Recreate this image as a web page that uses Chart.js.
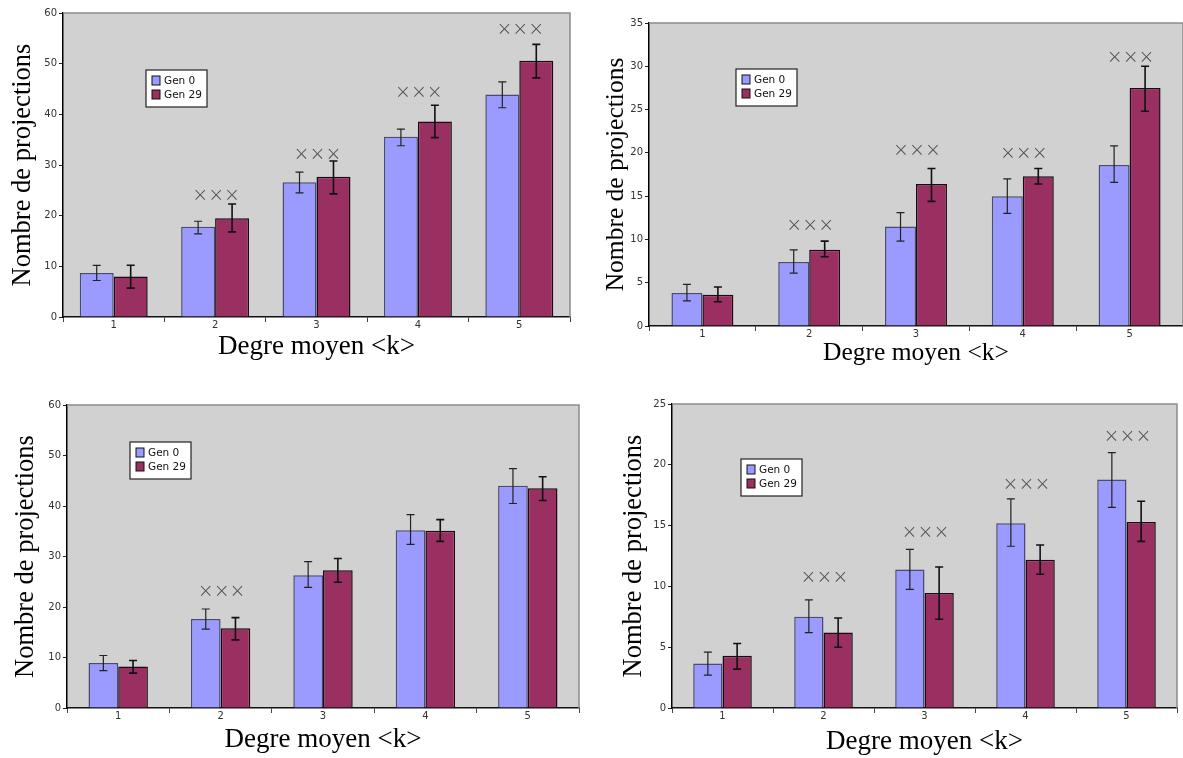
<!DOCTYPE html>
<html>
<head>
<meta charset="utf-8">
<script src="https://cdn.jsdelivr.net/npm/chart.js@4.4.0/dist/chart.umd.min.js"></script>
<style>
  html, body { margin: 0; padding: 0; background: #fff; }
  body { width: 1183px; height: 758px; position: relative; overflow: hidden; }
  canvas { position: absolute; }
</style>
</head>
<body>
<canvas id="c1" width="585" height="368" style="left:0px;top:0px"></canvas>
<canvas id="c2" width="591" height="375" style="left:592px;top:0px"></canvas>
<canvas id="c3" width="590" height="378" style="left:0px;top:380px"></canvas>
<canvas id="c4" width="591" height="378" style="left:592px;top:380px"></canvas>
<script>
// categories (degre moyen <k>)
var degres = ['1', '2', '3', '4', '5'];
var seriesNames = ['Gen 0', 'Gen 29'];
var marque = '×××';

// panneau 1 (haut gauche)
var p1Gen0 = [8.7, 17.8, 26.6, 35.6, 43.9];
var p1Gen0Lo = [7.2, 16.4, 24.5, 33.8, 41.3];
var p1Gen0Hi = [10.2, 18.9, 28.6, 37.1, 46.4];
var p1Gen29 = [8.0, 19.5, 27.7, 38.6, 50.6];
var p1Gen29Lo = [5.7, 16.8, 24.3, 35.4, 47.2];
var p1Gen29Hi = [10.2, 22.3, 30.8, 41.8, 53.8];
var p1Marks = [null, 23.9, 32.0, 44.2, 56.6];

// panneau 2 (haut droite)
var p2Gen0 = [3.8, 7.4, 11.5, 15.0, 18.6];
var p2Gen0Lo = [2.9, 6.1, 9.8, 13.0, 16.6];
var p2Gen0Hi = [4.8, 8.8, 13.1, 17.0, 20.8];
var p2Gen29 = [3.6, 8.8, 16.4, 17.3, 27.5];
var p2Gen29Lo = [2.8, 8.0, 14.4, 16.4, 24.8];
var p2Gen29Hi = [4.5, 9.8, 18.2, 18.2, 30.0];
var p2Marks = [null, 11.5, 20.2, 19.9, 31.0];

// panneau 3 (bas gauche)
var p3Gen0 = [8.9, 17.6, 26.3, 35.2, 44.0];
var p3Gen0Lo = [7.4, 15.6, 23.9, 32.4, 40.5];
var p3Gen0Hi = [10.4, 19.6, 29.0, 38.3, 47.4];
var p3Gen29 = [8.2, 15.8, 27.3, 35.1, 43.5];
var p3Gen29Lo = [6.9, 13.5, 24.9, 33.0, 41.1];
var p3Gen29Hi = [9.4, 17.9, 29.6, 37.3, 45.8];
var p3Marks = [null, 22.9, null, null, null];

// panneau 4 (bas droite)
var p4Gen0 = [3.65, 7.5, 11.4, 15.2, 18.8];
var p4Gen0Lo = [2.7, 6.2, 9.75, 13.3, 16.5];
var p4Gen0Hi = [4.6, 8.9, 13.05, 17.2, 21.0];
var p4Gen29 = [4.3, 6.2, 9.45, 12.2, 15.3];
var p4Gen29Lo = [3.2, 5.0, 7.3, 11.0, 13.7];
var p4Gen29Hi = [5.3, 7.4, 11.6, 13.4, 17.0];
var p4Marks = [null, 10.7, 14.4, 18.3, 22.25];

var yMax = [60, 35, 60, 25];
var yStep = [10, 5, 10, 5];

// background of the plot area + thin grey frame on top/right
var plotBg = {
    id: 'plotBg',
    beforeDraw: function(chart) {
        var a = chart.chartArea, ctx = chart.ctx;
        ctx.save();
        ctx.fillStyle = '#d1d1d1';
        ctx.fillRect(a.left, a.top, a.right - a.left, a.bottom - a.top);
        ctx.restore();
    },
    afterDraw: function(chart) {
        var a = chart.chartArea, ctx = chart.ctx;
        ctx.save();
        ctx.strokeStyle = '#8c8c8c';
        ctx.lineWidth = 1.5;
        ctx.beginPath();
        ctx.moveTo(a.left, a.top);
        ctx.lineTo(a.right, a.top);
        ctx.lineTo(a.right, a.bottom);
        ctx.stroke();
        ctx.restore();
    }
};

// error bars, significance marks and the little legend box
var extras = {
    id: 'extras',
    afterDatasetsDraw: function(chart) {
        var ctx = chart.ctx;
        var ys = chart.scales.y, xs = chart.scales.x;
        ctx.save();
        chart.data.datasets.forEach(function(ds, di) {
            var meta = chart.getDatasetMeta(di);
            ctx.strokeStyle = ds.errColor;
            ctx.lineWidth = ds.errWidth;
            meta.data.forEach(function(bar, i) {
                var yl = ys.getPixelForValue(ds.lo[i]);
                var yh = ys.getPixelForValue(ds.hi[i]);
                ctx.beginPath();
                ctx.moveTo(bar.x, yl); ctx.lineTo(bar.x, yh);
                ctx.moveTo(bar.x - 4, yl); ctx.lineTo(bar.x + 4, yl);
                ctx.moveTo(bar.x - 4, yh); ctx.lineTo(bar.x + 4, yh);
                ctx.stroke();
            });
        });
        var o = chart.options.plugins.extras;
        ctx.fillStyle = '#505050';
        ctx.font = '200 19px "DejaVu Sans"';
        ctx.textAlign = 'center';
        ctx.textBaseline = 'middle';
        o.marks.forEach(function(v, i) {
            if (v === null) return;
            ctx.fillText(marque, xs.getPixelForValue(i) + 1, ys.getPixelForValue(v));
        });
        // legend
        var a = chart.chartArea;
        var lx = a.left + o.legendX, ly = a.top + o.legendY;
        ctx.fillStyle = '#fff';
        ctx.fillRect(lx, ly, 61, 37);
        ctx.strokeStyle = '#222';
        ctx.lineWidth = 1.2;
        ctx.strokeRect(lx, ly, 61, 37);
        ctx.font = '10.5px "DejaVu Sans"';
        ctx.textAlign = 'left';
        chart.data.datasets.forEach(function(ds, di) {
            var ry = ly + 11 + di * 14;
            ctx.fillStyle = ds.backgroundColor;
            ctx.fillRect(lx + 6, ry - 5, 8, 9);
            ctx.strokeStyle = '#111';
            ctx.lineWidth = 1;
            ctx.strokeRect(lx + 6, ry - 5, 8, 9);
            ctx.fillStyle = '#111';
            ctx.fillText(ds.label, lx + 18, ry);
        });
        ctx.restore();
    }
};

function makeChart(id, g0, g0lo, g0hi, g29, g29lo, g29hi, marks, k, opt) {
    var el = document.getElementById(id);
    return new Chart(el, {
        type: 'bar',
        data: {
            labels: degres,
            datasets: [
                {
                    label: seriesNames[0],
                    data: g0, lo: g0lo, hi: g0hi,
                    backgroundColor: '#9b9bff',
                    borderColor: '#4a4a78',
                    borderWidth: 1.5,
                    errColor: '#222',
                    errWidth: 1.2
                },
                {
                    label: seriesNames[1],
                    data: g29, lo: g29lo, hi: g29hi,
                    backgroundColor: '#9a2f61',
                    borderColor: '#1a0a10',
                    borderWidth: 1.5,
                    errColor: '#111',
                    errWidth: 1.6
                }
            ]
        },
        options: {
            responsive: false,
            animation: false,
            datasets: { bar: { barPercentage: 1, categoryPercentage: opt.cat } },
            layout: { padding: { top: opt.top, right: opt.right, left: 0, bottom: 0 } },
            plugins: {
                legend: { display: false },
                tooltip: { enabled: false },
                extras: { marks: marks, legendX: opt.legX, legendY: opt.legY }
            },
            scales: {
                x: {
                    grid: { offset: true, drawOnChartArea: false, tickLength: 5, color: '#444' },
                    border: { color: '#111', width: 1.5 },
                    ticks: { color: '#333', padding: -3, font: { family: 'DejaVu Sans', size: 10 } },
                    title: {
                        display: true, text: 'Degre moyen <k>', color: '#000',
                        font: { family: 'Liberation Serif', size: opt.xtSize, lineHeight: 1 },
                        padding: { top: 0, bottom: opt.xtPad }
                    },
                    afterFit: function(s) { s.height = opt.xh; }
                },
                y: {
                    min: 0, max: yMax[k],
                    grid: { drawOnChartArea: false, tickLength: 4, color: '#222' },
                    border: { color: '#000', width: 1.5 },
                    ticks: { stepSize: yStep[k], color: '#333', padding: 2, font: { family: 'DejaVu Sans', size: 10 } },
                    title: {
                        display: true, text: 'Nombre de projections', color: '#000',
                        font: { family: 'Liberation Serif', size: opt.ytSize, lineHeight: 1 },
                        padding: { top: opt.ytPad, bottom: 0 }
                    },
                    afterFit: function(s) { s.width = opt.yw; }
                }
            }
        },
        plugins: [plotBg, extras]
    });
}

makeChart('c1', p1Gen0, p1Gen0Lo, p1Gen0Hi, p1Gen29, p1Gen29Lo, p1Gen29Hi, p1Marks, 0,
    { cat: 0.67, top: 13, right: 15, xh: 51, yw: 63, xtPad: 7.5, ytPad: 10, xtSize: 27, ytSize: 26.5, legX: 83, legY: 57 });
makeChart('c2', p2Gen0, p2Gen0Lo, p2Gen0Hi, p2Gen29, p2Gen29Lo, p2Gen29Hi, p2Marks, 1,
    { cat: 0.58, top: 23, right: 0, xh: 49, yw: 57, xtPad: 9, ytPad: 12, xtSize: 25.5, ytSize: 25.5, legX: 87, legY: 46 });
makeChart('c3', p3Gen0, p3Gen0Lo, p3Gen0Hi, p3Gen29, p3Gen29Lo, p3Gen29Hi, p3Marks, 2,
    { cat: 0.58, top: 25, right: 11, xh: 50, yw: 67, xtPad: 5, ytPad: 13, xtSize: 27, ytSize: 26.5, legX: 63, legY: 37 });
makeChart('c4', p4Gen0, p4Gen0Lo, p4Gen0Hi, p4Gen29, p4Gen29Lo, p4Gen29Hi, p4Marks, 3,
    { cat: 0.58, top: 24, right: 6, xh: 50, yw: 80, xtPad: 3, ytPad: 29, xtSize: 27, ytSize: 26.5, legX: 69, legY: 55 });
</script>
</body>
</html>
